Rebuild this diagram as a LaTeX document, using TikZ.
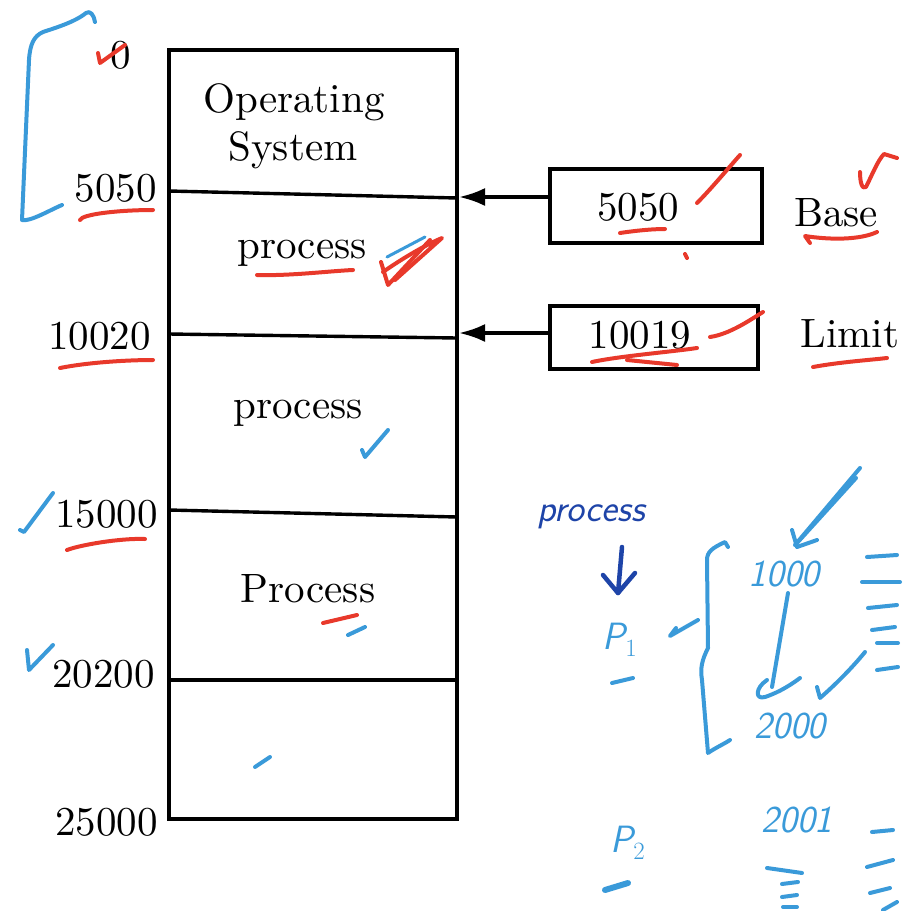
\documentclass[tikz,border=0pt]{standalone}
\usepackage{fontspec}
\setmainfont{lmroman10-regular}[Extension=.otf]
\usetikzlibrary{arrows.meta}
\definecolor{hred}{HTML}{E8392B}
\definecolor{hblue}{HTML}{3A9AD9}
\definecolor{hdark}{HTML}{1E44A8}
\tikzset{
  txt/.style={font=\fontsize{41}{49}\selectfont, inner sep=0pt},
  hw/.style={font=\fontsize{38}{44}\selectfont\sffamily\itshape, inner sep=0pt},
  wall/.style={line width=3.8pt},
  divider/.style={line width=3.4pt},
  regbox/.style={draw, line width=3.8pt, minimum width=208pt, inner sep=0pt},
  ptr/.style={line width=3.4pt, -{Latex[length=26pt,width=18pt]}},
  redpen/.style={hred, line width=4pt, line cap=round, line join=round},
  bluepen/.style={hblue, line width=4pt, line cap=round, line join=round},
  darkpen/.style={hdark, line width=4.5pt, line cap=round, line join=round},
}
\begin{document}
\begin{tikzpicture}[x=1pt,y=-1pt]
\useasboundingbox (0,0) rectangle (909,911);
% memory column
\coordinate (tl) at (169,50);
\coordinate (br) at (457,819);
\draw[wall] (tl) rectangle (br);
\coordinate (d1l) at (169,191); \coordinate (d1r) at (457,198);
\coordinate (d2l) at (169,334); \coordinate (d2r) at (457,338);
\coordinate (d3l) at (169,510); \coordinate (d3r) at (457,517);
\coordinate (d4l) at (169,680); \coordinate (d4r) at (457,680);
\draw[divider] (d1l) -- (d1r);
\draw[divider] (d2l) -- (d2r);
\draw[divider] (d3l) -- (d3r);
\draw[divider] (d4l) -- (d4r);
% addresses
\node[txt, anchor=base east] (a0) at (131,68) {0};
\node[txt, anchor=base east] (a1) at (157,201) {5050};
\node[txt, anchor=base east] (a2) at (151,349) {10020};
\node[txt, anchor=base east] (a3) at (158,527) {15000};
\node[txt, anchor=base east] (a4) at (155,687) {20200};
\node[txt, anchor=base east] (a5) at (158,835) {25000};
% contents
\node[txt, anchor=base] (os1) at (294,112) {Operating};
\node[txt, anchor=base] (os2) at (293,160) {System};
\node[txt, anchor=base] (p1) at (302,258) {process};
\node[txt, anchor=base] (p2) at (298,418) {process};
\node[txt, anchor=base] (p3) at (308,602) {Process};
% registers
\node[regbox, minimum width=212pt, minimum height=74pt] (base) at (656,206) {};
\node[txt, anchor=base] (basev) at (638,220) {5050};
\node[regbox, minimum width=208pt, minimum height=63pt] (limit) at (654,337.5) {};
\node[txt, anchor=base] (limitv) at (640,348) {10019};
\node[txt, anchor=base] (basel) at (836,226) {Base};
\node[txt, anchor=base] (limitl) at (850,347) {Limit};
\coordinate (bt) at (459,197);
\coordinate (lt) at (459,333);
\draw[ptr] (base.west |- bt) -- (bt);
\draw[ptr] (limit.west |- lt) -- (lt);
% ---- handwritten red marks
\draw[redpen] (98,53) -- (100,63) -- (125,45);
\draw[redpen] (80,220) .. controls (82,214) and (120,210) .. (153,210);
\draw[redpen] (257,275) .. controls (290,276) and (330,271) .. (353,270);
\draw[redpen] (381,262) -- (388,285) -- (430,240);
\draw[redpen] (383,272) .. controls (400,260) and (425,245) .. (442,238) -- (395,280);
\draw[bluepen, line width=3pt] (387,257) -- (425,237);
\draw[redpen] (60,368) .. controls (90,362) and (130,360) .. (153,360);
\draw[redpen] (697,203) .. controls (710,190) and (725,172) .. (740,155);
\draw[redpen] (620,233) .. controls (640,230) and (655,229) .. (665,229);
\draw[redpen] (685,254) -- (687,258);
\draw[redpen] (860,172) .. controls (860,182) and (862,190) .. (866,187) .. controls (872,175) and (878,160) .. (884,154) -- (897,158);
\draw[redpen] (810,243) -- (805,236) .. controls (830,240) and (860,240) .. (877,232);
\draw[redpen] (710,337) .. controls (730,334) and (750,320) .. (763,312);
\draw[redpen] (592,362) .. controls (620,356) and (670,352) .. (697,348);
\draw[redpen] (627,360) -- (677,365);
\draw[redpen] (813,367) .. controls (840,362) and (870,360) .. (887,358);
\draw[redpen] (67,550) .. controls (80,545) and (120,538) .. (145,539);
\draw[redpen] (323,623) -- (357,615);
% ---- handwritten blue marks
\draw[bluepen] (95,22) .. controls (94,15) and (90,10) .. (86,13) .. controls (75,22) and (55,28) .. (43,32) .. controls (34,36) and (30,44) .. (29,60) -- (22,220) .. controls (30,222) and (50,210) .. (62,205);
\draw[bluepen] (362,450) -- (365,457) -- (388,430);
\draw[bluepen] (20,530) -- (24,532) -- (53,493);
\draw[bluepen] (27,650) -- (29,670) -- (53,645);
\draw[bluepen] (348,635) -- (365,627);
\draw[bluepen] (255,767) -- (270,757);
% ---- right side notes
\node[hw, text=hdark] (nproc) at (591,517) {process};
\draw[darkpen] (622,547) -- (618,593);
\draw[darkpen] (603,575) -- (618,593) -- (635,573);
\node[hw, text=hblue] (np1) at (620,640) {P$_1$};
\draw[bluepen] (612,683) -- (633,678);
\draw[bluepen] (698,620) -- (670,636) -- (676,628);
\draw[bluepen] (728,547) -- (725,542) .. controls (712,548) and (707,552) .. (707,560) -- (708,648) .. controls (702,660) and (700,668) .. (702,680) -- (708,753) .. controls (715,748) and (724,744) .. (730,740);
\node[hw, text=hblue] (n1000) at (784,574) {1000};
\node[hw, text=hblue] (n2000) at (790,726) {2000};
\draw[bluepen] (860,468) -- (795,545);
\draw[bluepen] (856,478) -- (797,543);
\draw[bluepen] (792,530) -- (797,547) -- (817,540);
\draw[bluepen] (788,593) -- (772,687);
\draw[bluepen] (767,680) .. controls (755,688) and (755,700) .. (765,697) .. controls (780,692) and (792,684) .. (800,678);
\draw[bluepen] (817,687) -- (820,698) .. controls (835,685) and (852,668) .. (865,652);
\draw[bluepen] (867,557) -- (897,555);
\draw[bluepen] (862,582) -- (900,582);
\draw[bluepen] (868,608) -- (897,605);
\draw[bluepen] (872,630) -- (895,627);
\draw[bluepen] (877,643) -- (898,643);
\draw[bluepen] (877,670) -- (898,667);
\node[hw, text=hblue] (np2) at (628,843) {P$_2$};
\draw[bluepen, line width=6pt] (605,890) -- (628,883);
\node[hw, text=hblue] (n2001) at (797,820) {2001};
\draw[bluepen] (872,832) -- (893,830);
\draw[bluepen] (867,867) -- (893,860);
\draw[bluepen] (870,893) -- (890,888);
\draw[bluepen] (883,910) -- (897,902);
\draw[bluepen] (767,868) -- (802,873);
\draw[bluepen] (782,884) -- (798,882);
\draw[bluepen] (782,897) -- (797,895);
\draw[bluepen] (783,907) -- (797,907);
\end{tikzpicture}
\end{document}
